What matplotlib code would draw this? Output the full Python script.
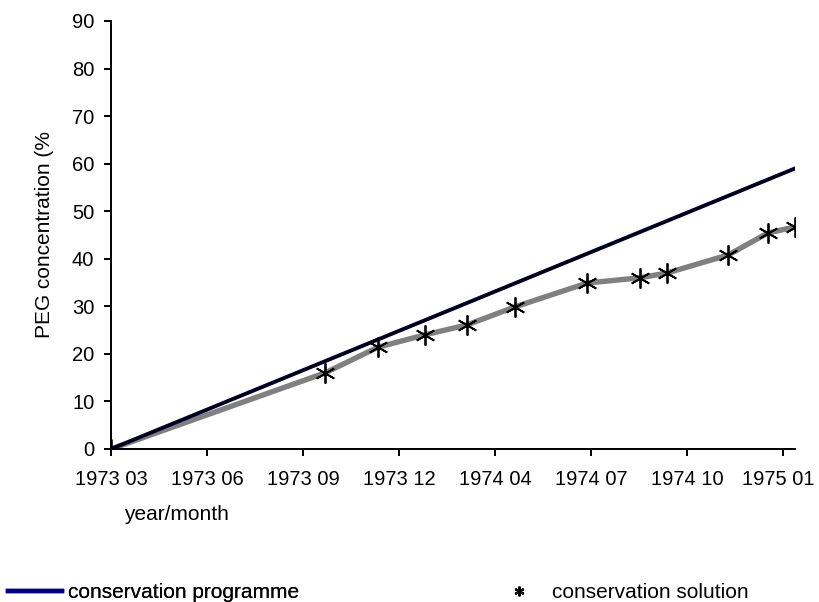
import matplotlib
matplotlib.use('Agg')
import matplotlib.pyplot as plt
from matplotlib.lines import Line2D
from matplotlib.transforms import ScaledTranslation

plt.rcParams['font.family'] = ['Liberation Sans', 'DejaVu Sans']
plt.rcParams['font.size'] = 15

# x positions are in tick steps (one step per tick label)
tick_labels = ['1973 03', '1973 06', '1973 09', '1973 12',
               '1974 04', '1974 07', '1974 10', '1975 01']

programme_x = [0.0, 7.125]
programme_y = [0.0, 59.0]

solution_x = [0.0, 2.23, 2.78, 3.27, 3.71, 4.21, 4.96, 5.51, 5.79, 6.43, 6.84, 7.125]
solution_y = [0.0, 16.0, 21.4, 24.0, 26.1, 29.9, 34.9, 36.0, 37.0, 40.8, 45.4, 46.7]

W, H = 819, 602
fig = plt.figure(figsize=(W / 100, H / 100), dpi=100)
ax = fig.add_axes([111 / W, 1 - 449 / H, 684 / W, 428 / H])

star = (6, 2, 0)
ax.plot(solution_x, solution_y, color='#808080', lw=3.9, zorder=2)
ax.plot(solution_x, solution_y, ls='none', marker=star, ms=14.5, mew=1.3,
        mec='black', mfc='black', zorder=4)
ax.plot(programme_x, programme_y, color='#000080', lw=2.8, zorder=3)
ax.plot(programme_x, programme_y, color='black', lw=2.0, zorder=3)

ax.set_xlim(0, 7.125)
ax.set_ylim(0, 90)
ax.set_xticks(range(len(tick_labels)))
ax.set_xticklabels(tick_labels)
ax.set_yticks(range(0, 91, 10))

for s in ['top', 'right']:
    ax.spines[s].set_visible(False)
for s in ['left', 'bottom']:
    ax.spines[s].set_linewidth(1.4)
ax.tick_params(axis='both', direction='out', length=5, width=1.4, color='black',
               labelsize=14.5)
ax.tick_params(axis='x', pad=10)
ax.tick_params(axis='y', pad=7)

# last label sits a little left of its tick, as in the original
last = ax.get_xticklabels()[-1]
last.set_transform(last.get_transform() + ScaledTranslation(-0.05, 0, fig.dpi_scale_trans))

ax.set_xlabel('year/month', ha='left', va='center')
ax.xaxis.set_label_coords((124 - 111) / 684, (449 - 515) / 428)
ax.set_ylabel('PEG concentration (%', va='center')
ax.yaxis.set_label_coords((45 - 111) / 684, 0.5)

h1 = Line2D([], [], color='#000080', lw=3.2)
h2 = Line2D([], [], ls='none', marker=star, ms=7, mew=1.6, color='black')
leg1 = fig.legend(handles=[h1], labels=['conservation programme'], loc='center left',
                  bbox_to_anchor=(8 / W, 1 - 593 / H), frameon=False, borderpad=0,
                  borderaxespad=0, handlelength=2.6, handletextpad=0.3)
fig.legend(handles=[h2], labels=['conservation solution'], loc='center left',
           bbox_to_anchor=(498 / W, 1 - 593 / H), frameon=False, borderpad=0,
           borderaxespad=0, handlelength=2.0, handletextpad=0.6)
fig.add_artist(leg1)

fig.savefig('out.png', dpi=100)
